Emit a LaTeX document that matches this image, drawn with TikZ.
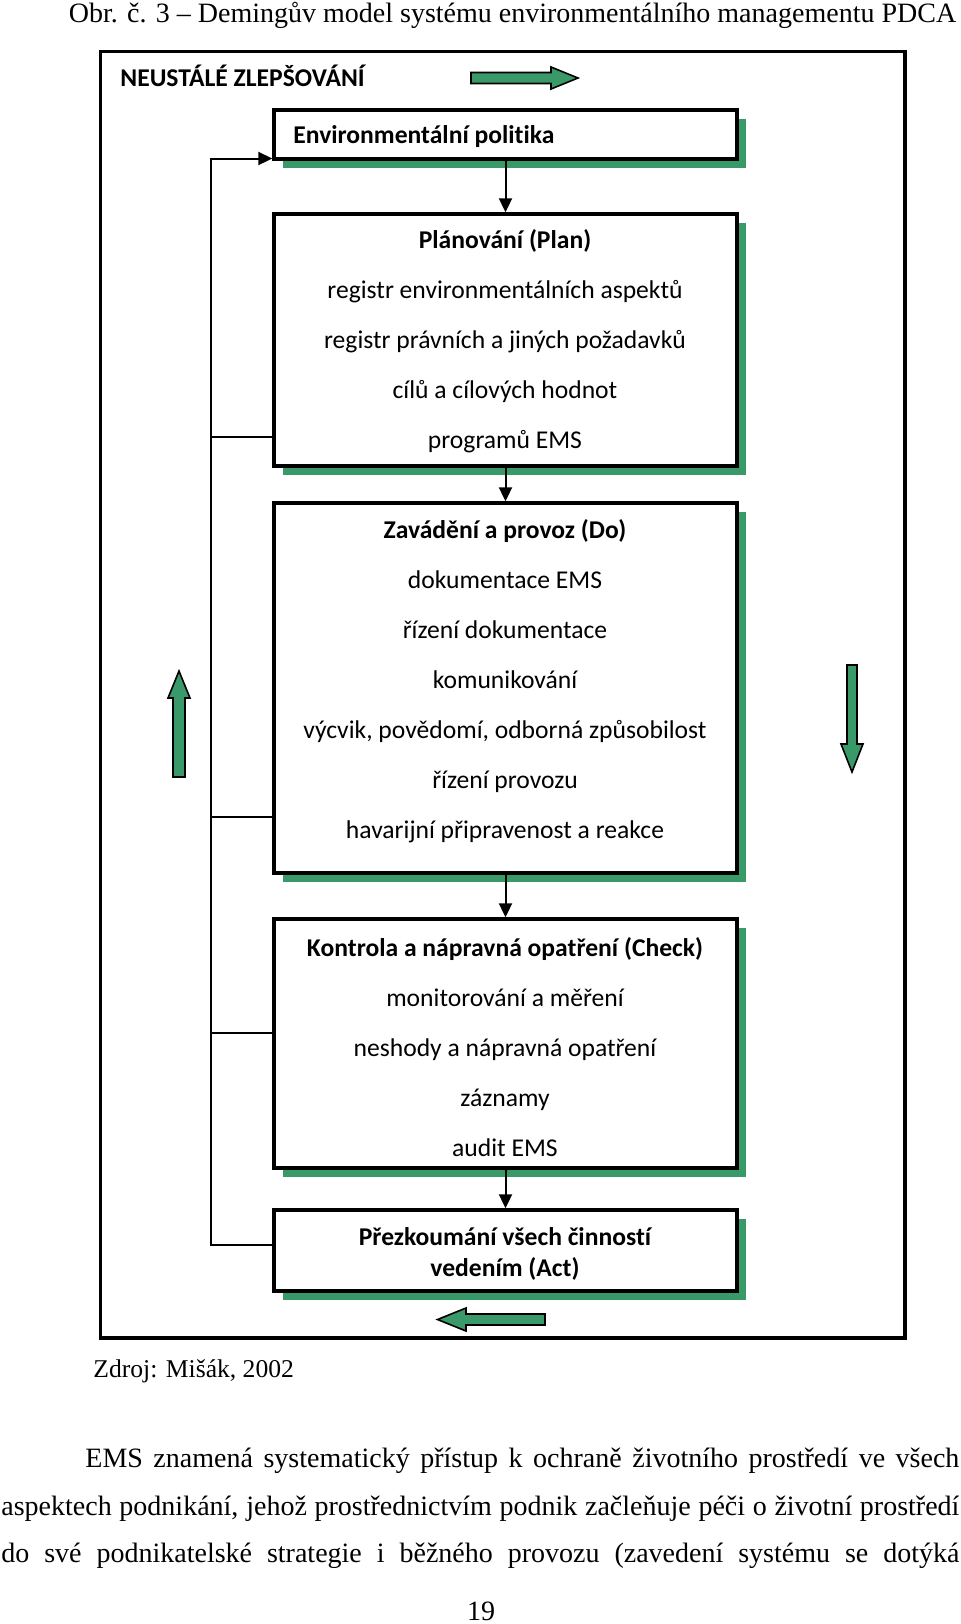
\documentclass[tikz,border=0pt]{standalone}
\usepackage{fontspec}
\setmainfont{Liberation Serif}
\newfontfamily\calibri[Ligatures=NoCommon]{Carlito}
\usetikzlibrary{arrows.meta,shadows}
\definecolor{emsgreen}{RGB}{58,153,104}
\tikzset{
	emsbox/.style={draw, line width=1.7pt, fill=white, inner sep=0pt, minimum width=231.5pt,
		drop shadow={shadow xshift=4.25pt, shadow yshift=-4.25pt, fill=emsgreen, opacity=1}},
	boxtext/.style={font=\calibri\fontsize{12.8}{25}\selectfont, align=center, inner sep=0pt},
	flow/.style={line width=1pt, -{Triangle[length=7pt,width=6.5pt]}},
	fbline/.style={line width=1pt},
	garrow/.style={draw=black, line width=0.8pt, fill=emsgreen, line join=miter},
	serif/.style={inner sep=0pt, font=\fontsize{14}{17}\selectfont},
}
\begin{document}
\begin{tikzpicture}[x=0.5pt, y=-0.5pt]
	\useasboundingbox (0,0) rectangle (960,1624);
	\node [serif, anchor=base] (titulek) at (512.5,22.5) {Obr. č. 3 – Demingův model systému environmentálního managementu PDCA};
	\draw [line width=1.6pt] (100.5,51.5) rectangle (905,1338);
	\node [anchor=base west, inner sep=0pt, font=\calibri\bfseries\fontsize{12.8}{15}\selectfont] (neustale) at (120,86) {NEUSTÁLÉ ZLEPŠOVÁNÍ};
	% boxy PDCA
	\node [emsbox, minimum height=24.5pt] (politika) at (505.5,134.5) {};
	\node [emsbox, minimum height=126pt] (planovani) at (505.5,340) {};
	\node [emsbox, minimum height=185pt] (zavadeni) at (505.5,688) {};
	\node [emsbox, minimum height=124.5pt] (kontrola) at (505.5,1043.5) {};
	\node [emsbox, minimum height=40.5pt] (prezkum) at (505.5,1250.5) {};
	\node [boxtext, anchor=west] (politikatext) at (293,136.5) {\bfseries Environmentální politika};
	\node [boxtext] (planovanitext) at (505,341) {\textbf{Plánování (Plan)}\\registr environmentálních aspektů\\registr právních a jiných požadavků\\cílů a cílových hodnot\\programů EMS};
	\node [boxtext] (zavadenitext) at (505,681) {\textbf{Zavádění a provoz (Do)}\\dokumentace EMS\\řízení dokumentace\\komunikování\\výcvik, povědomí, odborná způsobilost\\řízení provozu\\havarijní připravenost a reakce};
	\node [boxtext] (kontrolatext) at (505,1047) {\textbf{Kontrola a nápravná opatření (Check)}\\monitorování a měření\\neshody a nápravná opatření\\záznamy\\audit EMS};
	\node [boxtext, font=\calibri\bfseries\fontsize{12.8}{15.8}\selectfont] (prezkumtext) at (505,1254) {Přezkoumání všech činností\\vedením (Act)};
	\draw [flow] (politika) -- (planovani);
	\draw [flow] (planovani) -- (zavadeni);
	\draw [flow] (zavadeni) -- (kontrola);
	\draw [flow] (kontrola) -- (prezkum);
	% zpetna vazba
	\coordinate (fb) at (211,158.5);
	\coordinate (fbprezkum) at (211,1245);
	\draw [flow] (fbprezkum -| prezkum.west) -- (fbprezkum) -- (fb) -- (fb -| politika.west);
	\foreach \n/\y in {planovani/437, zavadeni/817, kontrola/1033} {
		\coordinate (fb\n) at (211,\y);
		\draw [fbline] (fb\n) -- (fb\n -| \n.west);
	}
	% zelene sipky
	\draw [garrow] (471,72.5) -- (551,72.5) -- (551,67) -- (578,78) -- (551,89) -- (551,83.5) -- (471,83.5) -- cycle;
	\draw [garrow] (173,777) -- (173,698) -- (168,698) -- (179,671) -- (190,698) -- (185,698) -- (185,777) -- cycle;
	\draw [garrow] (847,665) -- (857,665) -- (857,744) -- (863,744) -- (852,772) -- (841,744) -- (847,744) -- cycle;
	\draw [garrow] (545,1314) -- (466,1314) -- (466,1308) -- (437.5,1319.5) -- (466,1331) -- (466,1325) -- (545,1325) -- cycle;
	\node [anchor=base west, inner sep=0pt, font=\fontsize{12.8}{15}\selectfont] (zdroj) at (93,1377) {Zdroj: Mišák, 2002};
	\node [serif, anchor=base west] (radek1) at (85,1467) {\makebox[437pt][s]{EMS znamená systematický přístup k ochraně životního prostředí ve všech}};
	\node [serif, anchor=base west] (radek2) at (1,1515) {\makebox[479pt][s]{aspektech podnikání, jehož prostřednictvím podnik začleňuje péči o životní prostředí}};
	\node [serif, anchor=base west] (radek3) at (1,1562) {\makebox[479pt][s]{do své podnikatelské strategie i běžného provozu (zavedení systému se dotýká}};
	\node [serif, anchor=base] (strana) at (481,1620) {19};
\end{tikzpicture}
\end{document}
